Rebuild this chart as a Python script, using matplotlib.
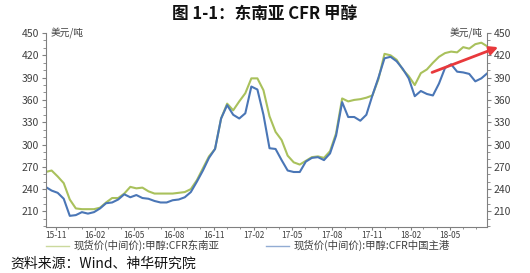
import matplotlib
matplotlib.use('Agg')
import matplotlib.pyplot as plt
import matplotlib.dates as mdates
from matplotlib.ticker import MultipleLocator
import pandas as pd

plt.rcParams['font.family'] = ['Noto Sans CJK SC', 'DejaVu Sans']

# Two-weekly readings (USD/t)
dates = pd.date_range('2015-10-09', periods=74, freq='14D')

cfr_sea = [263, 265, 257, 248, 226, 214, 213, 213, 213, 215,
           222, 228, 228, 234, 243, 241, 242, 237, 234, 234,
           234, 234, 235, 236, 240, 252, 268, 284, 294, 335,
           355, 346, 358, 369, 389, 389, 373, 338, 317, 306,
           285, 276, 273, 278, 283, 284, 282, 291, 315, 362,
           358, 360, 361, 363, 366, 388, 422, 420, 414, 401,
           392, 380, 396, 401, 410, 418, 423, 425, 424, 431,
           429, 435, 437, 432]

cfr_china = [243, 238, 235, 227, 204, 205, 209, 207, 209, 214,
             221, 222, 226, 233, 229, 232, 228, 227, 224, 222,
             222, 225, 226, 229, 236, 250, 265, 282, 294, 335,
             353, 340, 335, 342, 378, 374, 340, 295, 294, 279,
             265, 263, 263, 277, 282, 283, 279, 288, 312, 357,
             337, 337, 332, 340, 366, 390, 416, 418, 412, 402,
             389, 365, 372, 368, 366, 382, 403, 408, 398, 397,
             395, 385, 389, 396]

legend_labels = ['现货价(中间价):甲醇:CFR东南亚', '现货价(中间价):甲醇:CFR中国主港']
title = '图 1-1：东南亚 CFR 甲醇'
source = '资料来源：Wind、神华研究院'
unit = '美元/吨'

# arrow drawn on the chart (date, value)
arrow_from = (pd.Timestamp('2018-03-21'), 397)
arrow_to = (pd.Timestamp('2018-08-21'), 431)

green = '#a9c15c'
blue = '#4a76b6'
grey = '#404040'

fig = plt.figure(figsize=(5.3, 2.73), dpi=100)
ax = fig.add_axes([0.0868, 0.1685, 0.832, 0.7105])

l1, = ax.plot(dates, cfr_sea, color=green, lw=1.5, label=legend_labels[0])
l2, = ax.plot(dates, cfr_china, color=blue, lw=1.5, label=legend_labels[1])

ax.set_xlim(pd.Timestamp('2015-10-10'), pd.Timestamp('2018-07-26'))
ax.set_ylim(189, 450)

ax.spines['top'].set_visible(False)
for s in ['left', 'right', 'bottom']:
    ax.spines[s].set_color('#808080')
    ax.spines[s].set_linewidth(0.8)

ax.yaxis.set_major_locator(MultipleLocator(30))
ax.yaxis.set_minor_locator(MultipleLocator(10))
ax.set_yticks(range(210, 451, 30))
ax.tick_params(axis='y', which='both', left=True, right=True, labelleft=True, labelright=True,
               direction='out', colors='#808080', labelcolor=grey, labelsize=7.5, pad=2)
ax.tick_params(axis='y', which='major', length=3)
ax.tick_params(axis='y', which='minor', length=2)

ax.xaxis.set_major_locator(mdates.MonthLocator(bymonth=[2, 5, 8, 11]))
ax.xaxis.set_minor_locator(mdates.MonthLocator())
ax.xaxis.set_major_formatter(mdates.DateFormatter('%y-%m'))
ax.tick_params(axis='x', which='both', direction='out', colors='#808080', labelcolor=grey,
               labelsize=6, pad=0.5)
ax.tick_params(axis='x', which='major', length=2.5)
ax.tick_params(axis='x', which='minor', length=1.5)

ax.text(0.01, 1.0, unit, transform=ax.transAxes, fontsize=7, color=grey, va='center', ha='left')
ax.text(0.99, 1.0, unit, transform=ax.transAxes, fontsize=7, color=grey, va='center', ha='right')

ax.annotate('', xy=arrow_to, xytext=arrow_from, annotation_clip=False,
            arrowprops=dict(arrowstyle='-|>', color='#e8393c', lw=2, mutation_scale=12,
                            shrinkA=0, shrinkB=0))

# two legend entries placed separately, as in the source chart
for handle, x0 in [(l1, 0.085), (l2, 0.5)]:
    leg = fig.legend(handles=[handle], loc='center left', bbox_to_anchor=(x0, 0.1),
                     frameon=False, fontsize=7.5, handlelength=2.2, handletextpad=0.4,
                     borderpad=0.1, borderaxespad=0)
    leg.get_texts()[0].set_color(grey)
    leg.legend_handles[0].set_linewidth(1)
    leg.legend_handles[0].set_alpha(0.6)

fig.text(0.5, 0.95, title, ha='center', va='center', fontsize=12, fontweight='bold', color='#111111')
fig.text(0.02, 0.035, source, ha='left', va='center', fontsize=10, color='#111111')

fig.savefig('out.png', dpi=100)
